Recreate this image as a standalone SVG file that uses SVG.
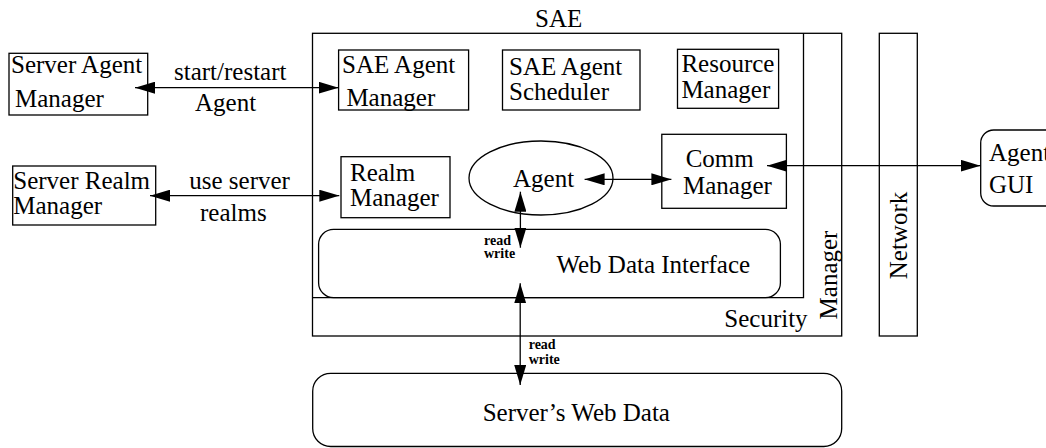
<svg xmlns="http://www.w3.org/2000/svg" width="1046" height="448" viewBox="0 0 1046 448">
<style>
.b{fill:none;stroke:#000;stroke-width:1.3}
.t{font-family:"Liberation Serif","Times New Roman",serif;font-size:25px;fill:#000}
.s{font-family:"Liberation Serif","Times New Roman",serif;font-size:14px;font-weight:bold;fill:#000}
.c{fill:none;stroke:#000;stroke-width:1.3;marker-start:url(#ah);marker-end:url(#ah)}
</style>
<defs>
<marker id="ah" markerUnits="userSpaceOnUse" markerWidth="20" markerHeight="12" refX="20" refY="6" orient="auto-start-reverse">
<path d="M0,0 L20,6 L0,12 Z" fill="#000"/>
</marker>
</defs>
<rect width="1046" height="448" fill="#fff"/>

<g id="sae">
<rect class="b" x="312.5" y="33.3" width="529.2" height="302.7"/>
<path class="b" d="M803.5,33.3 V297.7 H312.5"/>
<text class="t" x="535" y="26.7">SAE</text>
<text class="t" x="724.3" y="326.7">Security</text>
<text class="t" transform="translate(836.5,275) rotate(-90)" text-anchor="middle">Manager</text>
</g>

<g id="network">
<rect class="b" x="879.3" y="33.3" width="38" height="302.7"/>
<text class="t" transform="translate(906.5,235.5) rotate(-90)" text-anchor="middle">Network</text>
</g>

<g id="server-agent-manager">
<rect class="b" x="9" y="53.3" width="138.7" height="61.7"/>
<text class="t" x="11" y="73.3">Server Agent</text>
<text class="t" x="15" y="106.7">Manager</text>
</g>

<g id="server-realm-manager">
<rect class="b" x="12.7" y="166" width="143" height="59"/>
<text class="t" x="13.3" y="189">Server Realm</text>
<text class="t" x="13.3" y="214.3">Manager</text>
</g>

<g id="sae-agent-manager">
<rect class="b" x="338.6" y="50" width="130" height="60"/>
<text class="t" x="342" y="73.3">SAE Agent</text>
<text class="t" x="346.4" y="106">Manager</text>
</g>

<g id="sae-agent-scheduler">
<rect class="b" x="502.5" y="50" width="137.5" height="60"/>
<text class="t" x="509" y="75">SAE Agent</text>
<text class="t" x="509" y="100">Scheduler</text>
</g>

<g id="resource-manager">
<rect class="b" x="677.5" y="49.3" width="101.1" height="59"/>
<text class="t" x="681.4" y="71.7">Resource</text>
<text class="t" x="681.4" y="98.3">Manager</text>
</g>

<g id="comm-manager">
<rect class="b" x="661.8" y="134.3" width="124.6" height="74"/>
<text class="t" x="685.7" y="166.7">Comm</text>
<text class="t" x="683" y="194.3">Manager</text>
</g>

<g id="realm-manager">
<rect class="b" x="341" y="156.7" width="109" height="61"/>
<text class="t" x="350" y="180.7">Realm</text>
<text class="t" x="350" y="205.7">Manager</text>
</g>

<g id="agent">
<ellipse class="b" cx="541" cy="178" rx="72" ry="37"/>
<text class="t" x="513" y="186.7">Agent</text>
</g>

<g id="web-data-interface">
<rect class="b" x="318.6" y="229.3" width="461.8" height="68.4" rx="15" ry="15"/>
<text class="t" x="556.4" y="273.3">Web Data Interface</text>
</g>

<g id="agent-gui">
<rect class="b" x="980.7" y="130" width="90" height="76" rx="13" ry="13"/>
<text class="t" x="989" y="160.7">Agent</text>
<text class="t" x="989" y="193">GUI</text>
</g>

<g id="servers-web-data">
<rect class="b" x="312.7" y="373.3" width="529" height="73.2" rx="18" ry="18"/>
<text class="t" x="482.7" y="421">Server’s Web Data</text>
</g>

<g id="connectors">
<line class="c" x1="135" y1="87.7" x2="338.6" y2="87.7"/>
<line class="c" x1="150" y1="195.7" x2="339.3" y2="195.7"/>
<line class="c" x1="584.6" y1="179.3" x2="671.4" y2="179.3"/>
<line class="c" x1="767" y1="165.7" x2="980.5" y2="165.7"/>
<line class="c" x1="520.4" y1="191.7" x2="520.4" y2="247.7"/>
<line class="c" x1="520.2" y1="283.3" x2="520.2" y2="385"/>
<text class="t" x="174" y="80">start/restart</text>
<text class="t" x="195" y="110.7">Agent</text>
<text class="t" x="189.3" y="189.3">use server</text>
<text class="t" x="200" y="220.7">realms</text>
<text class="s" x="484" y="245">read</text>
<text class="s" x="484" y="258.3">write</text>
<text class="s" x="528.7" y="349.3">read</text>
<text class="s" x="528.7" y="364.3">write</text>
</g>
</svg>
